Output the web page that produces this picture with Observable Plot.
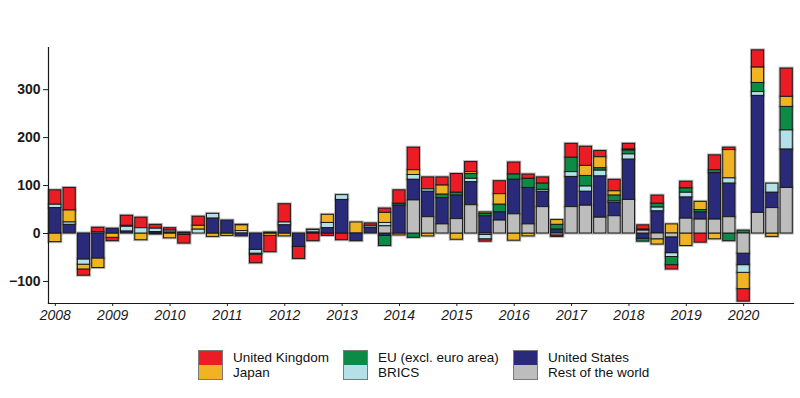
<!DOCTYPE html>
<html>
<head>
<meta charset="utf-8">
<script src="https://cdn.jsdelivr.net/npm/d3@7"></script>
<script src="https://cdn.jsdelivr.net/npm/@observablehq/plot@0.6"></script>
<style>
  body { margin: 0; background: #fff; font-family: "Liberation Sans", Arial, sans-serif; }
  #wrap { position: relative; width: 800px; height: 398px; }
  #chart svg g[aria-label="x-axis tick label"] text { font-style: italic; }
  #chart svg g[aria-label="y-axis tick label"] text { font-weight: bold; }
  .legcol { position: absolute; top: 350px; }
  .legrow { display: flex; align-items: center; height: 15px; overflow: visible; }
  .sw { width: 23px; height: 14px; border: 1px solid #7a7a7a; box-sizing: content-box; margin-right: 10px; flex: none; }
  .legrow + .legrow .sw { border-top: none; height: 14px; }
  .lt { display: block; font-size: 13.5px; color: #111; line-height: 15px; height: 15px; white-space: nowrap; }
</style>
</head>
<body>
<div id="wrap">
  <div id="chart"></div>
  <div id="legend"></div>
</div>
<script>
// Years and quarters
const years = [2008, 2009, 2010, 2011, 2012, 2013, 2014, 2015, 2016, 2017, 2018, 2019, 2020];
const quarters = years.flatMap(y => [1, 2, 3, 4].map(q => `${y}Q${q}`));

// Series (one value per quarter, 2008Q1 .. 2020Q4)
const unitedKingdom = [30, 47, -13, 9, -7, 21, 22, 8, 5, -18, 19, 0, 0, 1, -18, -34, 38, -25, -16, -5, -14, 0, 5, 9, 28, 47, 25, 17, 39, 21, -5, 27, 25, 9, 13, -3, 29, 40, 13, 24, 12, 9, 17, -9, 14, -19, 31, 5, -26, 36, 0, 59];
const japan = [-18, 25, -10, -20, -9, 0, -14, 0, -10, -3, 8, -7, -5, 12, -2, -5, -6, 0, 0, 17, 0, 23, 0, 21, -4, 10, -6, 19, -13, 4, 3, 22, -15, -6, 0, 10, 0, 21, 23, 9, 2, 2, -11, 19, -26, 17, -12, 59, -34, 32, -7, 21];
const euExEuro = [0, 0, 0, 0, 0, 2, 0, 0, 0, 0, 0, 0, 0, 0, 0, 0, 0, 0, 1, 0, 0, 0, 0, -21, 4, -9, 0, 7, 6, 10, 5, 16, 11, 19, 13, 10, 30, 22, 5, 12, 8, -6, 8, -17, 9, 5, 6, -16, 6, 19, 0, 49];
const unitedStates = [53, 18, -54, -52, 10, 4, 0, 3, 2, 2, 0, 31, 27, -6, -34, 2, 17, -28, 2, 11, 70, -16, 12, -5, 58, 43, 53, 55, 49, 48, 36, 17, 72, 76, 32, 8, 63, 29, 86, 28, 84, -11, 46, -33, 44, 15, 97, 70, -24, 244, 32, 80];
const brics = [7, 5, -11, 3, 0, 10, 11, 7, 4, 0, 8, 10, 0, 5, -8, 0, 6, 0, 5, 11, 10, 0, 4, 7, 0, 10, 5, 0, 0, 7, -9, 0, 0, 0, 4, 0, 10, 11, 12, 3, 11, 0, 8, -8, 10, 0, 0, 11, -16, 8, 19, 40];
const restOfWorld = [0, 0, 0, 0, 0, 0, 0, -2, 0, 0, 0, 0, 0, 0, 0, 0, 0, 0, 0, 0, 0, 0, 0, 15, 0, 69, 34, 19, 30, 59, -3, 27, 40, 19, 55, -4, 55, 58, 33, 36, 70, 6, -12, -8, 31, 29, 29, 34, -42, 43, 53, 95];

const seriesNames = ["United Kingdom", "Japan", "EU (excl. euro area)", "BRICS", "United States", "Rest of the world"];
const seriesColors = ["#ec1c24", "#f0b323", "#0b8b45", "#b4e1e7", "#2a2a7a", "#bdbdbd"];
const stackOrder = ["Rest of the world", "United States", "BRICS", "EU (excl. euro area)", "Japan", "United Kingdom"];
const legendColumns = [["United Kingdom", "Japan"], ["EU (excl. euro area)", "BRICS"], ["United States", "Rest of the world"]];
const yTicks = [-100, 0, 100, 200, 300];
const yDomain = [-146, 388];

const seriesValues = {
  "United Kingdom": unitedKingdom,
  "Japan": japan,
  "EU (excl. euro area)": euExEuro,
  "BRICS": brics,
  "United States": unitedStates,
  "Rest of the world": restOfWorld
};

const data = seriesNames.flatMap(name =>
  seriesValues[name].map((v, i) => ({ q: quarters[i], series: name, value: v }))
).filter(d => d.value !== 0);

const stackOpts = (extra) => Plot.stackY({
  x: "q", y: "value", z: "series", order: stackOrder, fill: "series", ...extra
});

const chart = Plot.plot({
  width: 800,
  height: 330,
  marginLeft: 48,
  marginRight: 7,
  marginTop: 47,
  marginBottom: 27,
  style: { fontFamily: "'Liberation Sans', Arial, sans-serif", fontSize: "14px", color: "#1a1a1a", background: "#fff" },
  x: { domain: quarters, paddingInner: 0.15, paddingOuter: 0.05, round: false, label: null },
  y: { domain: yDomain, label: null },
  color: { domain: seriesNames, range: seriesColors, legend: false },
  marks: [
    Plot.rectY(data, stackOpts({ stroke: "#9a9a9a", strokeWidth: 3, strokeOpacity: 0.7 })),
    Plot.rectY(data, stackOpts({ stroke: "#1a1a1a", strokeWidth: 1 })),
    Plot.axisY({ ticks: yTicks, tickSize: 5, tickPadding: 3, fontSize: 14, fontWeight: "bold", label: null }),
    Plot.axisX({ ticks: quarters.filter(q => q.endsWith("Q1")), tickFormat: q => q.slice(0, 4), tickSize: 3, tickPadding: 4, fontSize: 14, label: null }),
    Plot.frame({ anchor: "left", stroke: "#1a1a1a", strokeWidth: 1.2 }),
    Plot.frame({ anchor: "bottom", stroke: "#1a1a1a", strokeWidth: 1.2 })
  ]
});
document.getElementById("chart").appendChild(chart);

// Legend
const colorOf = name => seriesColors[seriesNames.indexOf(name)];
const colLefts = [198, 343, 513];
const legend = document.getElementById("legend");
legendColumns.forEach((col, ci) => {
  const c = document.createElement("div");
  c.className = "legcol";
  c.style.left = colLefts[ci] + "px";
  col.forEach(name => {
    const r = document.createElement("div");
    r.className = "legrow";
    const s = document.createElement("div");
    s.className = "sw";
    s.style.background = colorOf(name);
    const t = document.createElement("span");
    t.className = "lt";
    t.textContent = name;
    r.appendChild(s); r.appendChild(t);
    c.appendChild(r);
  });
  legend.appendChild(c);
});
</script>
</body>
</html>
